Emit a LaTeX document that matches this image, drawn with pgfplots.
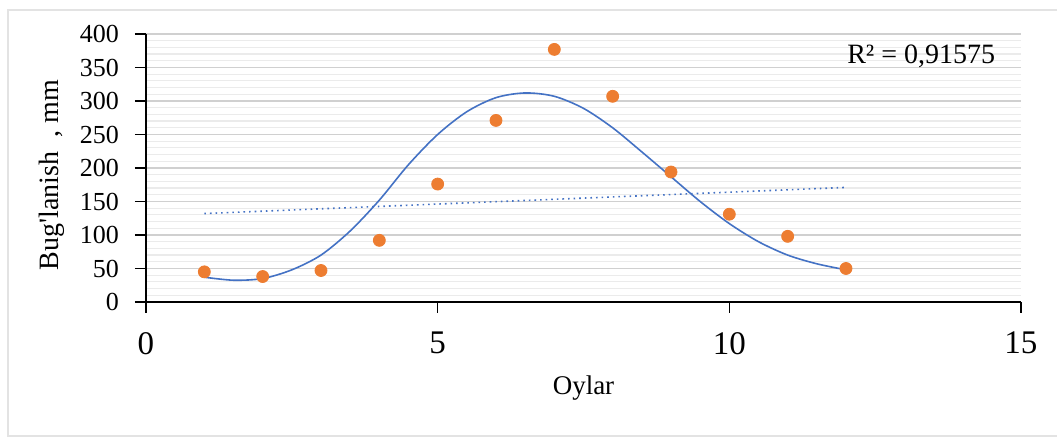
\documentclass[border=0pt]{standalone}
\usepackage{pgfplots}
\pgfplotsset{compat=1.18}
\usepackage{fontspec}
\setmainfont{Liberation Serif}
\definecolor{ptorange}{HTML}{ED7D31}
\definecolor{trendblue}{HTML}{4472C4}
\definecolor{majgrid}{HTML}{D0D0D0}
\definecolor{mingrid}{HTML}{EBEBEB}
\begin{document}
\begin{tikzpicture}
\useasboundingbox (-73pt,-67.5pt) rectangle (455.5pt,151pt);
\draw[color=gray!22, line width=0.9pt] (-69pt,-67pt) rectangle (470pt,146pt);
\begin{axis}[
  at={(0pt,0pt)}, anchor=south west,
  scale only axis,
  width=437.5pt, height=134pt,
  xmin=0, xmax=15, ymin=0, ymax=400,
  xtick={0,5,10,15},
  ytick={0,50,...,400},
  minor y tick num=4,
  axis x line=bottom, axis y line=left,
  axis line style={-, black, line width=0.8pt},
  tick align=outside,
  major tick length=5.5pt,
  minor tick length=0pt,
  tick style={black, line width=0.8pt},
  ymajorgrids, yminorgrids,
  major grid style={majgrid, line width=0.6pt},
  minor grid style={mingrid, line width=0.6pt},
  /pgf/number format/assume math mode=true,
  yticklabel style={font=\fontsize{13}{15}\selectfont, xshift=-4.5pt},
  xticklabel style={font=\fontsize{16.5}{19}\selectfont, yshift=-6pt},
  xlabel={Oylar},
  ylabel={Bug\textquotesingle lanish\ \ , mm},
  every axis x label/.style={at={(axis description cs:0.5,0)}, anchor=center, yshift=-43pt, font=\fontsize{13.5}{16}\selectfont},
  every axis y label/.style={at={(axis description cs:-0.1074,0.474)}, rotate=90, anchor=center, font=\fontsize{14}{16}\selectfont},
  clip=false,
]
% polynomial trend line
\addplot[trendblue, line width=0.8pt, smooth] coordinates {
 (1,37) (1.5,32.5) (2,35) (2.5,48) (3,70) (3.5,106) (4,152) (4.5,205)
 (5,250) (5.5,284) (6,305) (6.5,312) (7,307) (7.5,289) (8,260) (8.5,224)
 (9,187) (9.5,150) (10,117) (10.5,90) (11,70) (11.5,57) (12,48)
};
% linear trend line
\addplot[trendblue, line width=0.8pt, dotted] coordinates {(1,132) (12,171)};
% data
\addplot[only marks, mark=*, mark size=3pt, mark options={draw=ptorange, fill=ptorange}] coordinates {
 (1,45) (2,38) (3,47) (4,92) (5,176) (6,271) (7,377) (8,307) (9,194) (10,131) (11,98) (12,50)
};
\node[font=\fontsize{14}{16}\selectfont, anchor=center] at (axis cs:13.29,366) {R² = 0,91575};
\end{axis}
\end{tikzpicture}
\end{document}
